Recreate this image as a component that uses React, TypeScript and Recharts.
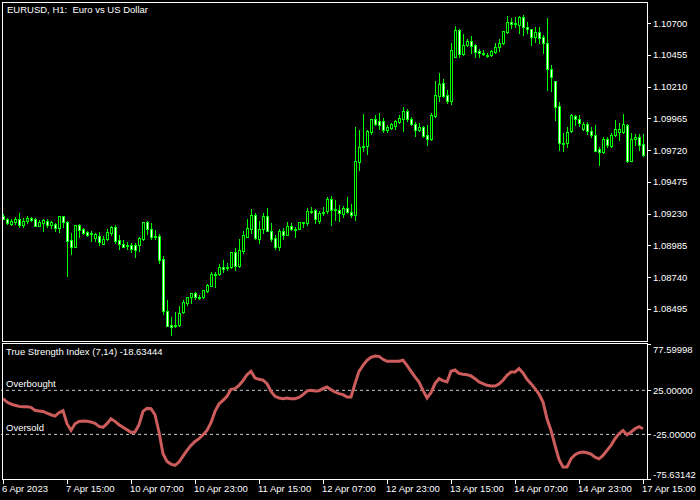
import React from 'react';
import { ComposedChart, Bar, LineChart, Line, XAxis, YAxis, ReferenceLine } from 'recharts';

const FONT = '"Liberation Sans", Arial, sans-serif';
const GREEN = '#00ff00';

// EURUSD H1, 6 Apr 23:00 .. 17 Apr 15:00
const opens = [
  1.09212, 1.09189, 1.0915, 1.09166, 1.09189, 1.09143, 1.09173, 1.09197, 1.09189, 1.09135,
  1.09158, 1.09173, 1.09143, 1.0915, 1.0912, 1.09212, 1.09166, 1.09027, 1.08973, 1.09143,
  1.09112, 1.09089, 1.09081, 1.09042, 1.09058, 1.08996, 1.09035, 1.09081, 1.09127, 1.09027,
  1.08996, 1.08988, 1.08988, 1.08988, 1.08988, 1.09035, 1.09166, 1.09112, 1.09058, 1.09058,
  1.0888, 1.0848, 1.08371, 1.08371, 1.08371, 1.08472, 1.08541, 1.08587, 1.08618, 1.08587,
  1.08587, 1.08634, 1.08672, 1.08765, 1.08765, 1.08819, 1.08811, 1.08819, 1.08934, 1.08826,
  1.08942, 1.0905, 1.09112, 1.0922, 1.09035, 1.09112, 1.09212, 1.09096, 1.09042, 1.08973,
  1.09096, 1.09065, 1.09135, 1.09112, 1.09112, 1.09166, 1.09158, 1.09243, 1.09258, 1.09173,
  1.09235, 1.0925, 1.09343, 1.09258, 1.09258, 1.09227, 1.09274, 1.09243, 1.0922, 1.09628,
  1.09744, 1.09752, 1.0986, 1.0996, 1.09944, 1.09944, 1.09875, 1.0989, 1.09906, 1.09937,
  1.0996, 1.10021, 1.0996, 1.09921, 1.09875, 1.09898, 1.09836, 1.09806, 1.09983, 1.10137,
  1.10237, 1.10145, 1.10099, 1.10438, 1.10646, 1.10461, 1.1053, 1.10561, 1.1053, 1.10484,
  1.10469, 1.10453, 1.10453, 1.10476, 1.10515, 1.10546, 1.10631, 1.10708, 1.10692, 1.10685,
  1.10746, 1.10669, 1.10654, 1.10592, 1.10631, 1.10592, 1.10546, 1.10345, 1.10253, 1.1006,
  1.09775, 1.09775, 1.09867, 1.09983, 1.0996, 1.09883, 1.09921, 1.09867, 1.09836, 1.09728,
  1.09705, 1.09806, 1.09752, 1.09836, 1.0986, 1.0986, 1.09914, 1.09636, 1.09806, 1.09821,
  1.09767,
];
const highs = [
  1.09227, 1.09197, 1.09189, 1.09204, 1.09235, 1.09197, 1.09212, 1.09204, 1.09197, 1.09181,
  1.09189, 1.09189, 1.09173, 1.09158, 1.09212, 1.09212, 1.09173, 1.09081, 1.09143, 1.0915,
  1.0912, 1.09096, 1.09096, 1.09081, 1.09089, 1.09058, 1.09112, 1.09135, 1.09143, 1.09065,
  1.09027, 1.09012, 1.09004, 1.09004, 1.0905, 1.09166, 1.09173, 1.09158, 1.09104, 1.09073,
  1.08904, 1.08564, 1.08433, 1.08472, 1.08518, 1.08564, 1.08587, 1.08618, 1.08626, 1.08603,
  1.08641, 1.08688, 1.0878, 1.0878, 1.08842, 1.08873, 1.0885, 1.08934, 1.08965, 1.09035,
  1.09096, 1.09189, 1.09266, 1.09235, 1.09173, 1.09235, 1.09274, 1.09158, 1.09065, 1.09112,
  1.0912, 1.09166, 1.09158, 1.09127, 1.09166, 1.09166, 1.09274, 1.09281, 1.09266, 1.0925,
  1.09281, 1.09358, 1.09366, 1.09335, 1.09297, 1.09289, 1.09358, 1.09304, 1.09898, 1.09875,
  1.09998, 1.09875, 1.0996, 1.09991, 1.10006, 1.09968, 1.09914, 1.09929, 1.09952, 1.09991,
  1.10052, 1.10037, 1.09975, 1.09937, 1.09929, 1.09906, 1.09914, 1.10006, 1.10253, 1.10315,
  1.10268, 1.10183, 1.10546, 1.10677, 1.10654, 1.10615, 1.10577, 1.106, 1.10538, 1.105,
  1.10492, 1.10469, 1.10492, 1.10546, 1.10577, 1.10638, 1.10754, 1.10739, 1.10746, 1.10754,
  1.10762, 1.10708, 1.10654, 1.10669, 1.10669, 1.10607, 1.10739, 1.10376, 1.10253, 1.10091,
  1.09852, 1.09898, 1.09998, 1.09991, 1.09991, 1.09937, 1.09937, 1.09898, 1.09914, 1.09744,
  1.09821, 1.09821, 1.09852, 1.09952, 1.09929, 1.09998, 1.09921, 1.09852, 1.09844, 1.09844,
  1.09844,
];
const lows = [
  1.09189, 1.0915, 1.09143, 1.0915, 1.09127, 1.09127, 1.09158, 1.09173, 1.09135, 1.09135,
  1.09096, 1.09127, 1.0912, 1.09096, 1.09089, 1.09127, 1.08749, 1.08919, 1.08973, 1.0905,
  1.09073, 1.09058, 1.09019, 1.09019, 1.08988, 1.08996, 1.09027, 1.09065, 1.09004, 1.08958,
  1.08973, 1.08958, 1.08934, 1.08896, 1.08942, 1.09027, 1.09073, 1.09035, 1.09035, 1.0885,
  1.08456, 1.08364, 1.08294, 1.08356, 1.08364, 1.08464, 1.08526, 1.08541, 1.08572, 1.08572,
  1.0858, 1.08626, 1.08672, 1.08665, 1.08757, 1.0878, 1.08796, 1.08811, 1.08796, 1.08819,
  1.08927, 1.0905, 1.09081, 1.09035, 1.09004, 1.09081, 1.09096, 1.09019, 1.08958, 1.0895,
  1.09035, 1.09065, 1.09104, 1.0905, 1.09112, 1.09127, 1.09143, 1.09235, 1.09158, 1.09158,
  1.0922, 1.09235, 1.09143, 1.09181, 1.09173, 1.09204, 1.09235, 1.09204, 1.09181, 1.09567,
  1.09713, 1.0969, 1.09844, 1.09914, 1.09883, 1.0986, 1.0986, 1.09883, 1.09883, 1.09929,
  1.09867, 1.09944, 1.09914, 1.09829, 1.09867, 1.09821, 1.09759, 1.09798, 1.09975, 1.10099,
  1.10129, 1.10083, 1.10076, 1.10438, 1.10438, 1.10453, 1.10523, 1.10469, 1.10438, 1.10438,
  1.10453, 1.10438, 1.10446, 1.10469, 1.10484, 1.10538, 1.10623, 1.10661, 1.10669, 1.10623,
  1.10607, 1.10623, 1.1053, 1.10554, 1.10546, 1.10469, 1.10183, 1.10176, 1.09952, 1.09721,
  1.09713, 1.09744, 1.0986, 1.09914, 1.09906, 1.09875, 1.09844, 1.09821, 1.09713, 1.09605,
  1.09698, 1.09744, 1.09744, 1.09829, 1.09798, 1.09852, 1.09628, 1.09636, 1.09759, 1.09721,
  1.09674,
];
const closes = [
  1.09189, 1.09158, 1.09173, 1.09189, 1.09143, 1.09173, 1.09197, 1.09181, 1.09135, 1.09166,
  1.09181, 1.09143, 1.09166, 1.0912, 1.09212, 1.09166, 1.09019, 1.08973, 1.09143, 1.09104,
  1.09081, 1.09065, 1.09073, 1.09073, 1.09012, 1.09035, 1.09089, 1.09127, 1.09019, 1.08996,
  1.08973, 1.08981, 1.08958, 1.0895, 1.09042, 1.09166, 1.09112, 1.0905, 1.0905, 1.08873,
  1.0848, 1.08364, 1.08356, 1.08364, 1.08464, 1.08549, 1.08587, 1.08618, 1.08587, 1.0858,
  1.08641, 1.0868, 1.08765, 1.08757, 1.08819, 1.08803, 1.08819, 1.08934, 1.08826, 1.0895,
  1.09065, 1.0912, 1.0922, 1.09042, 1.09112, 1.09212, 1.09096, 1.09035, 1.08973, 1.09096,
  1.09065, 1.09135, 1.09112, 1.09104, 1.09166, 1.09158, 1.0925, 1.0925, 1.09189, 1.09235,
  1.09243, 1.09343, 1.09258, 1.09266, 1.09235, 1.09274, 1.09243, 1.0922, 1.09636, 1.09744,
  1.09752, 1.09867, 1.0996, 1.09921, 1.09914, 1.09875, 1.09898, 1.09921, 1.09944, 1.09968,
  1.10021, 1.0996, 1.09921, 1.09875, 1.09898, 1.09829, 1.09806, 1.09991, 1.10145, 1.1023,
  1.10137, 1.10099, 1.10492, 1.10646, 1.10461, 1.1053, 1.10561, 1.10523, 1.10476, 1.10469,
  1.10461, 1.10446, 1.10484, 1.10515, 1.10546, 1.10638, 1.10708, 1.10692, 1.107, 1.10746,
  1.10669, 1.10654, 1.10592, 1.10631, 1.10584, 1.10546, 1.10345, 1.10284, 1.10052, 1.09775,
  1.09767, 1.0986, 1.09991, 1.0996, 1.09929, 1.09921, 1.09867, 1.09836, 1.09713, 1.09705,
  1.09806, 1.09759, 1.09836, 1.09883, 1.09883, 1.09921, 1.09636, 1.09806, 1.09821, 1.09759,
  1.09682,
];
// True Strength Index (7,14)
const tsi = [
  15.5, 11.7, 9.5, 8.0, 6.8, 6.4, 6.4, 5.7, 2.3, 1.5,
  1.1, -0.8, -2.7, -4.2, -0.4, 1.9, -12.9, -20.5, -12.9, -10.2,
  -9.8, -10.2, -11.0, -12.5, -15.9, -17.0, -12.9, -7.2, -10.2, -14.0,
  -17.0, -19.7, -22.7, -22.3, -14.0, 1.1, 4.5, 4.2, -2.7, -22.3,
  -47.0, -55.7, -58.7, -60.2, -56.4, -49.6, -43.2, -37.5, -33.0, -29.9,
  -25.4, -20.5, -11.7, 1.1, 9.5, 13.6, 18.2, 26.1, 26.9, 30.7,
  36.0, 42.8, 46.6, 39.0, 37.5, 36.7, 32.6, 23.9, 18.2, 16.3,
  15.5, 16.3, 15.5, 15.5, 17.0, 20.1, 24.2, 25.0, 24.2, 24.6,
  26.9, 28.8, 25.8, 23.1, 21.2, 20.1, 17.4, 17.4, 32.6, 46.6,
  53.4, 59.1, 62.5, 64.0, 63.6, 60.2, 58.0, 58.0, 58.0, 58.0,
  59.1, 53.4, 46.6, 40.2, 34.5, 25.0, 16.3, 22.4, 32.6, 38.3,
  36.0, 34.5, 46.6, 48.1, 44.3, 43.2, 42.8, 41.3, 38.3, 34.5,
  32.6, 30.7, 29.9, 29.9, 32.2, 36.4, 42.0, 45.8, 45.8, 49.6,
  44.7, 37.5, 32.6, 26.9, 20.8, 11.7, -7.2, -20.5, -37.5, -53.4,
  -62.1, -62.1, -52.7, -48.1, -45.8, -45.1, -45.8, -47.3, -50.8, -52.7,
  -48.9, -43.2, -37.5, -29.9, -24.2, -20.5, -25.4, -22.3, -18.6, -16.3,
  -18.63444,
];

const priceTicks = [1.08495, 1.0874, 1.08985, 1.0923, 1.09475, 1.0972, 1.09965, 1.1021, 1.10455, 1.107];
const tsiTicks = [77.59998, 25, -25, -75.63142];
const timeTickIdx = [0, 16, 32, 48, 64, 80, 96, 112, 128, 144, 160];
const timeTickLabels = [
  '6 Apr 2023', '7 Apr 15:00', '10 Apr 07:00', '10 Apr 23:00', '11 Apr 15:00', '12 Apr 07:00',
  '12 Apr 23:00', '13 Apr 15:00', '14 Apr 07:00', '14 Apr 23:00', '17 Apr 15:00',
];

const rows = opens.map((o, i) => ({
  i,
  o,
  h: highs[i],
  l: lows[i],
  c: closes[i],
  range: [lows[i], highs[i]],
  tsi: tsi[i],
}));

function Candle(props: any) {
  const { x, y, width, height, payload } = props;
  const top = Math.min(y, y + height);
  const bottom = Math.max(y, y + height);
  const span = payload.h - payload.l;
  const k = span > 0 ? (bottom - top) / span : 0;
  const py = (v: number) => top + (payload.h - v) * k;
  const cx = Math.floor(x + width / 2);
  const yo = Math.round(py(payload.o));
  const yc = Math.round(py(payload.c));
  const bt = Math.min(yo, yc);
  const bb = Math.max(yo, yc);
  const up = payload.c >= payload.o;
  return (
    <g>
      <line x1={cx + 0.5} x2={cx + 0.5} y1={Math.round(top)} y2={Math.round(bottom) + 1} stroke={GREEN} />
      <rect x={cx - 0.5} y={bt + 0.5} width={2} height={Math.max(bb - bt, 0)} fill={up ? '#000' : '#fff'} stroke={GREEN} />
    </g>
  );
}

function PriceTick(props: any) {
  const { y, payload } = props;
  const yy = Math.round(y) + 0.5;
  return (
    <g>
      <line x1={647} x2={651} y1={yy} y2={yy} stroke="#fff" />
      <text x={653} y={y + 3.5} fill="#fff" fontSize={9.5} fontFamily={FONT}>
        {payload.value.toFixed(5)}
      </text>
    </g>
  );
}

function TsiTick(props: any) {
  const { y, payload } = props;
  const v = payload.value;
  const yy = Math.round(y) + 0.5;
  let ty = y + 3.5;
  if (v > 70) ty = y + 8.5;
  if (v < -70) ty = y - 1.5;
  return (
    <g>
      <line x1={647} x2={651} y1={yy} y2={yy} stroke="#fff" />
      <text x={653} y={ty} fill="#fff" fontSize={9.5} fontFamily={FONT}>
        {v.toFixed(5)}
      </text>
    </g>
  );
}

function TimeTick(props: any) {
  const { x, payload } = props;
  const idx = timeTickIdx.indexOf(payload.value);
  const xx = Math.floor(x) + 0.5;
  return (
    <g>
      <line x1={xx} x2={xx} y1={479} y2={484} stroke="#fff" />
      <text x={x - 1} y={492} fill="#fff" fontSize={9.5} fontFamily={FONT}>
        {timeTickLabels[idx]}
      </text>
    </g>
  );
}

export default function App() {
  return (
    <div style={{ position: 'absolute', left: 0, top: 0, width: 700, height: 500, background: '#000', overflow: 'hidden' }}>
      <div style={{ position: 'absolute', left: 0, top: 0 }}>
        <ComposedChart width={700} height={342} data={rows} margin={{ top: 2, right: 0, bottom: 1, left: 1 }}>
          <XAxis dataKey="i" hide />
          <YAxis
            orientation="right"
            type="number"
            width={55}
            domain={[1.08248, 1.10862]}
            allowDataOverflow
            ticks={priceTicks}
            interval={0}
            tick={<PriceTick />}
            axisLine={false}
            tickLine={false}
          />
          <Bar dataKey="range" barSize={3} shape={<Candle />} isAnimationActive={false} />
        </ComposedChart>
      </div>
      <div style={{ position: 'absolute', left: 0, top: 0 }}>
        <LineChart width={700} height={500} data={rows} margin={{ top: 344, right: 0, bottom: 0, left: 1 }}>
          <XAxis
            dataKey="i"
            type="category"
            ticks={timeTickIdx}
            interval={0}
            padding={{ left: 2, right: 2 }}
            height={21}
            tick={<TimeTick />}
            axisLine={false}
            tickLine={false}
          />
          <YAxis
            orientation="right"
            type="number"
            width={55}
            domain={[-75.63142, 77.59998]}
            allowDataOverflow
            ticks={tsiTicks}
            interval={0}
            tick={<TsiTick />}
            axisLine={false}
            tickLine={false}
          />
          <ReferenceLine y={25} stroke="#c8c8c8" strokeDasharray="3 3" />
          <ReferenceLine y={-25} stroke="#c8c8c8" strokeDasharray="3 3" />
          <Line type="linear" dataKey="tsi" stroke="#cd5c5c" strokeWidth={3} dot={false} isAnimationActive={false} />
        </LineChart>
      </div>
      <div style={{ position: 'absolute', left: 2, top: 2, width: 646, height: 340, border: '1px solid #fff', boxSizing: 'border-box' }} />
      <div style={{ position: 'absolute', left: 2, top: 343, width: 646, height: 137, border: '1px solid #fff', boxSizing: 'border-box' }} />
      <svg width={700} height={500} style={{ position: 'absolute', left: 0, top: 0 }}>
        <g fill="#fff" fontSize={9.5} fontFamily={FONT} style={{ whiteSpace: 'pre' }}>
          <text x={7} y={13} xmlSpace="preserve">EURUSD, H1:  Euro vs US Dollar</text>
          <text x={6} y={355}>True Strength Index (7,14) -18.63444</text>
          <text x={6} y={387}>Overbought</text>
          <text x={6} y={431}>Oversold</text>
        </g>
      </svg>
    </div>
  );
}
